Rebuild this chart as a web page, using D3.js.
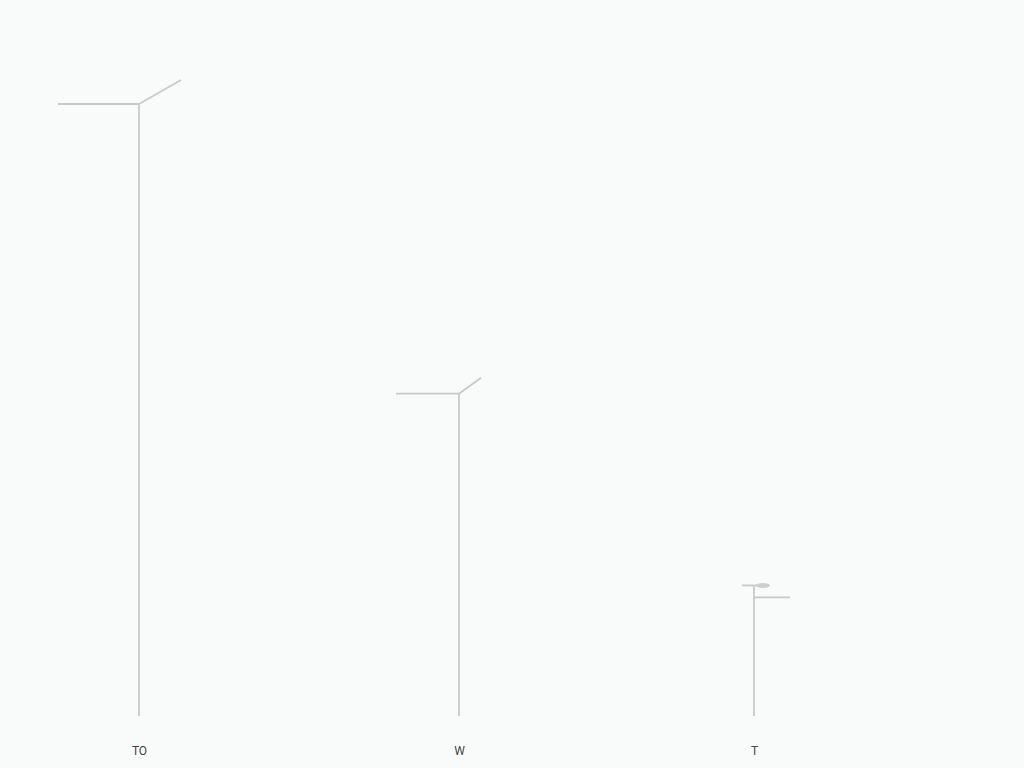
<!DOCTYPE html>
<html>
<head>
<meta charset="utf-8">
<script src="https://cdn.jsdelivr.net/npm/d3@7"></script>
<style>
  html, body { margin: 0; padding: 0; background: #f8fbfa; }
  svg { display: block; }
</style>
</head>
<body>
<svg id="chart" width="1024" height="768"></svg>
<script>
// ---- data ----
const categories = ["TO", "W", "T"];
const values = [90, 47.4, 19.2];

// ---- layout ----
const W = 1024, H = 768;
const baseY = 716, topY = 36;
const svg = d3.select("#chart");

svg.append("rect").attr("width", W).attr("height", H).attr("fill", "#f8fbfa");

const x = d3.scaleOrdinal().domain(categories).range([139, 459, 754]);
const y = d3.scaleLinear().domain([0, 100]).range([baseY, topY]);

const stroke = "#c9c9c9";
const g = svg.append("g");

const data = categories.map((c, i) => ({ c, v: values[i], i }));

// stems
g.selectAll("line.stem").data(data).join("line")
  .attr("class", "stem")
  .attr("x1", d => x(d.c)).attr("x2", d => x(d.c))
  .attr("y1", y(0)).attr("y2", d => y(d.v))
  .attr("stroke", stroke).attr("stroke-width", 1.8);

// head decorations (styling per item)
const heads = [
  { left: 81, dx: 42, dy: -24 },
  { left: 63, dx: 22, dy: -16 },
  null
];

data.forEach(d => {
  const cx = x(d.c), cy = y(d.v), h = heads[d.i];
  if (h) {
    g.append("line")
      .attr("x1", cx - h.left).attr("x2", cx)
      .attr("y1", cy).attr("y2", cy)
      .attr("stroke", stroke).attr("stroke-width", 1.8);
    g.append("line")
      .attr("x1", cx).attr("x2", cx + h.dx)
      .attr("y1", cy).attr("y2", cy + h.dy)
      .attr("stroke", stroke).attr("stroke-width", 1.8);
  } else {
    g.append("line")
      .attr("x1", cx - 12).attr("x2", cx + 8)
      .attr("y1", cy).attr("y2", cy)
      .attr("stroke", stroke).attr("stroke-width", 1.8);
    g.append("ellipse")
      .attr("cx", cx + 9).attr("cy", cy)
      .attr("rx", 7).attr("ry", 2.5)
      .attr("fill", "#cfcfcf");
    g.append("line")
      .attr("x1", cx).attr("x2", cx + 36)
      .attr("y1", cy + 12).attr("y2", cy + 12)
      .attr("stroke", stroke).attr("stroke-width", 1.8);
  }
});

// category axis
const axis = d3.axisBottom(x).tickSize(0).tickPadding(30);
const ax = svg.append("g").attr("transform", `translate(0,${baseY})`).call(axis);
ax.select(".domain").remove();
ax.selectAll("text")
  .attr("fill", "#444")
  .style("font-family", "Roboto, 'Liberation Sans', sans-serif")
  .style("font-size", "12px");
</script>
</body>
</html>
